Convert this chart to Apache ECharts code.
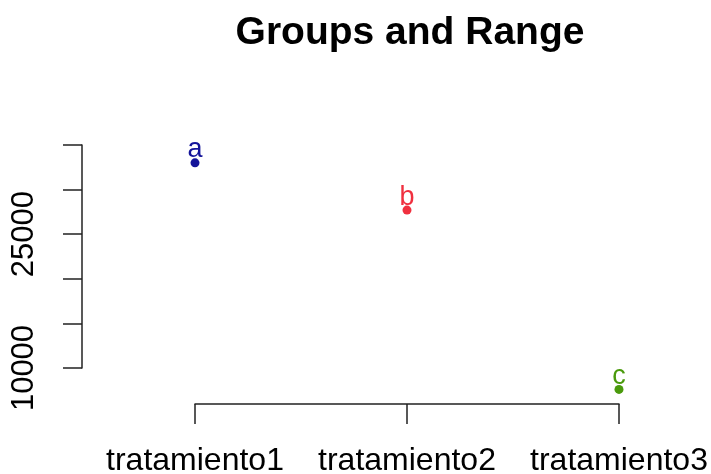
<!DOCTYPE html>
<html>
<head>
<meta charset="utf-8">
<script src="https://cdn.jsdelivr.net/npm/echarts@6/dist/echarts.min.js"></script>
<style>
  html, body { margin: 0; padding: 0; background: #fff; }
  #chart { width: 711px; height: 474px; }
</style>
</head>
<body>
<div id="chart"></div>
<script>
// datos
const treatments = ['tratamiento1', 'tratamiento2', 'tratamiento3']
const means = [33000, 27700, 7600]
const lows = [32700, 27400, 7300]
const highs = [33300, 28000, 7900]
const groups = ['a', 'b', 'c']
const groupColors = ['#14149a', '#f0303f', '#4a9a0c']
const yTicks = [10000, 15000, 20000, 25000, 30000, 35000]
const yLabels = [10000, 25000]

const FONT = 'Liberation Sans, Arial, sans-serif'

const chart = echarts.init(document.getElementById('chart'))

const points = means.map((v, i) => ({
  value: [i + 1, v],
  itemStyle: { color: groupColors[i], opacity: 1 },
  label: { color: groupColors[i] },
}))

const ranges = means.map((v, i) => [i + 1, lows[i], highs[i], i])

chart.setOption({
  animation: false,
  title: {
    text: 'Groups and Range',
    left: 405,
    top: 9,
    textAlign: 'center',
    textStyle: { fontFamily: FONT, fontSize: 39, fontWeight: 'bold', color: '#000' },
  },
  grid: { left: 195, right: 92, top: 145, bottom: 106, outerBoundsMode: 'none' },
  xAxis: {
    type: 'value',
    min: 1,
    max: 3,
    interval: 1,
    offset: 36,
    splitLine: { show: false },
    axisLine: { show: true, lineStyle: { color: '#222', width: 1.5 } },
    axisTick: { show: true, length: 20, lineStyle: { color: '#222', width: 1.5 } },
    axisLabel: {
      margin: 41,
      fontFamily: FONT,
      fontSize: 32,
      color: '#000',
      formatter: v => treatments[v - 1] || '',
    },
  },
  yAxis: {
    type: 'value',
    min: yTicks[0],
    max: yTicks[yTicks.length - 1],
    interval: 5000,
    offset: 113,
    splitLine: { show: false },
    axisLine: { show: true, lineStyle: { color: '#222', width: 1.5 } },
    axisTick: { show: true, length: 19, lineStyle: { color: '#222', width: 1.5 } },
    axisLabel: {
      rotate: 90,
      margin: 42,
      fontFamily: FONT,
      fontSize: 31,
      color: '#000',
      formatter: v => (yLabels.includes(v) ? String(v) : ''),
    },
  },
  series: [
    {
      type: 'custom',
      clip: false,
      data: ranges,
      renderItem: (params, api) => {
        const p1 = api.coord([api.value(0), api.value(1)])
        const p2 = api.coord([api.value(0), api.value(2)])
        return {
          type: 'line',
          shape: { x1: p1[0], y1: p1[1], x2: p2[0], y2: p2[1] },
          style: { stroke: groupColors[api.value(3)], lineWidth: 3 },
        }
      },
    },
    {
      type: 'scatter',
      clip: false,
      symbolSize: 9,
      data: points,
      label: {
        show: true,
        position: 'top',
        distance: -5,
        fontFamily: FONT,
        fontSize: 27,
        formatter: p => groups[p.dataIndex],
      },
    },
  ],
})
</script>
</body>
</html>
